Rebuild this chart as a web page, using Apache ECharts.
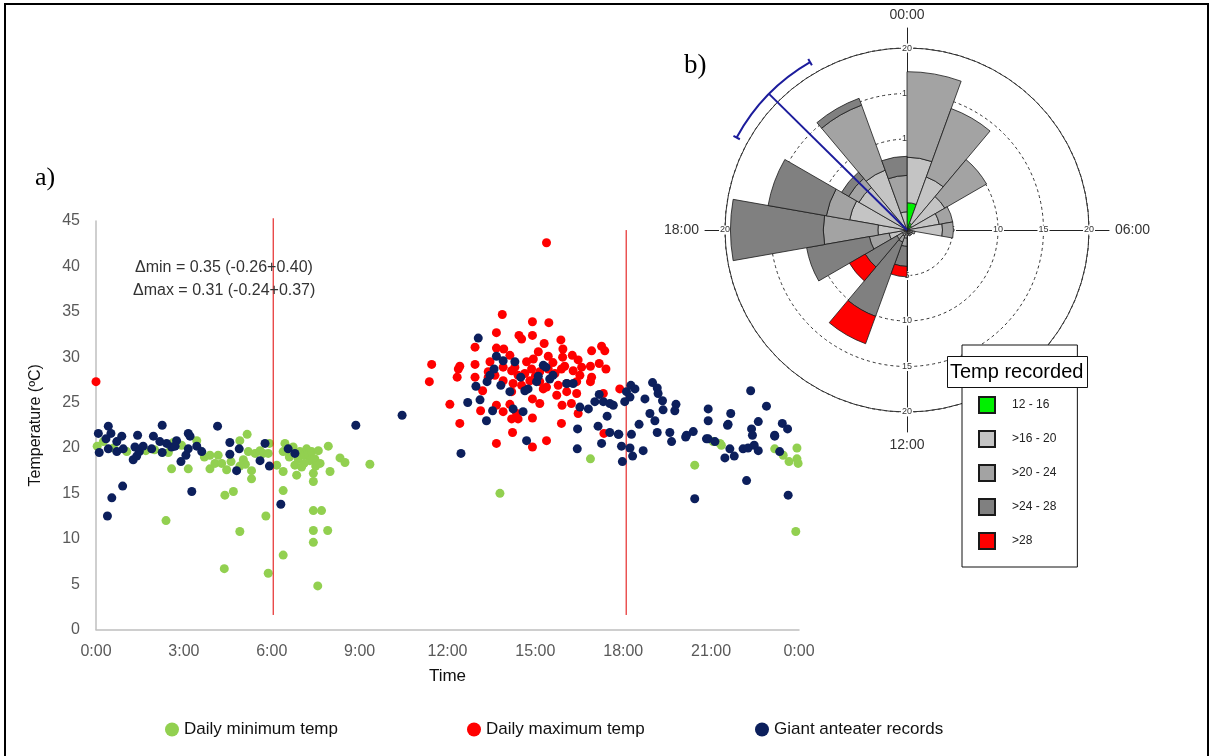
<!DOCTYPE html>
<html>
<head>
<meta charset="utf-8">
<script src="https://cdn.jsdelivr.net/npm/echarts@6/dist/echarts.min.js"></script>
<style>
html, body { margin: 0; padding: 0; background: #fff; }
#main { width: 1212px; height: 756px; }
</style>
</head>
<body>
<div id="main"></div>
<script>
// a) scatter: [hour of day, temperature]
var minTemp = [
  [0.04,20.2],[0.25,20.7],[0.6,20.0],[1.05,19.6],[1.7,19.7],[2.0,19.8],[2.47,19.5],[2.58,17.7],[2.64,20.6],[2.92,20.3],
  [3.15,17.7],[3.44,20.8],[2.39,12.0],[3.7,19.0],[3.89,19.2],[3.89,17.7],[4.17,19.2],[4.06,18.3],[4.29,18.3],[4.46,17.6],
  [4.61,18.5],[4.91,20.8],[5.16,21.5],[5.20,19.6],[5.03,18.7],[5.1,18.2],[5.31,17.5],[5.31,16.6],[5.43,19.4],[4.91,18.0],
  [5.6,19.7],[4.40,14.8],[4.69,15.2],[4.91,10.8],[4.38,6.7],[5.80,12.5],[5.88,6.2],[5.71,19.4],[5.88,19.4],[5.92,20.5],
  [6.17,18.1],[6.39,19.6],[6.45,20.5],[6.39,17.4],[6.39,15.3],[6.39,8.2],[6.6,19.0],[6.73,20.1],[6.96,19.6],[6.79,18.1],
  [6.85,17.0],[6.9,18.8],[7.02,17.9],[7.1,18.3],[7.13,19.2],[7.19,19.9],[7.25,19.3],[7.30,18.6],[7.36,19.6],[7.47,18.8],
  [7.5,18.0],[7.42,17.2],[7.42,16.3],[7.59,19.7],[7.65,18.3],[7.93,20.2],[7.99,17.4],[8.33,18.9],[8.50,18.4],[9.35,18.2],
  [7.42,13.1],[7.70,13.1],[7.42,10.9],[7.91,10.9],[7.42,9.6],[7.57,4.8],[13.79,15.0],[16.88,18.8],[20.44,18.1],[21.07,20.7],
  [21.30,20.5],[21.35,20.3],[23.17,19.9],[23.46,19.2],[23.66,18.5],[23.93,20.0],[23.93,18.8],[23.97,18.3],[23.89,10.8]
];
var maxTemp = [
  [0.0,27.3],[15.38,42.6],[13.87,34.7],[14.90,33.9],[15.46,33.8],[13.67,32.7],[14.44,32.4],[14.90,32.4],[15.87,31.9],[12.94,31.1],
  [13.67,31.0],[13.92,30.9],[14.53,32.0],[15.30,31.5],[15.94,30.9],[16.92,30.7],[17.26,31.2],[17.37,30.7],[11.46,29.2],[12.42,29.0],
  [12.94,29.2],[13.45,29.5],[14.13,30.2],[14.93,29.8],[15.44,30.1],[15.93,30.0],[16.26,30.2],[16.46,29.7],[17.18,29.3],[17.41,28.7],
  [16.88,29.0],[16.58,28.9],[12.37,28.7],[12.33,27.8],[11.38,27.3],[12.94,27.8],[13.39,28.4],[13.90,28.9],[14.19,28.5],[14.41,28.0],
  [14.64,28.2],[14.87,28.7],[15.15,28.4],[15.44,28.7],[15.67,28.2],[15.89,28.7],[16.29,28.5],[16.52,28.0],[16.92,27.8],[16.88,27.3],
  [16.41,27.3],[16.07,27.1],[15.78,26.9],[15.38,26.7],[15.15,27.3],[14.81,27.4],[14.53,26.9],[14.24,27.1],[13.90,27.4],[13.62,28.0],
  [13.39,27.8],[13.20,26.3],[14.19,26.2],[15.27,26.5],[15.73,25.8],[16.07,26.2],[16.41,26.0],[17.32,26.0],[17.88,26.5],[12.08,24.8],
  [13.13,24.1],[13.67,24.7],[13.90,24.0],[14.13,24.8],[14.36,23.8],[14.90,25.4],[15.15,24.9],[14.19,23.2],[14.41,23.2],[14.90,23.3],
  [15.91,24.7],[16.23,24.9],[16.46,23.8],[12.42,22.7],[15.89,22.7],[14.22,21.7],[13.67,20.5],[15.38,20.8],[14.90,20.1],[17.34,21.6],
  [14.7,29.5],[15.1,30.6],[15.6,29.4],[14.3,28.9],[15.0,27.9],[16.0,29.0]
];
var anteaterRecords = [
  [0.08,21.6],[0.42,22.4],[0.51,21.6],[0.34,21.0],[0.11,19.5],[0.42,19.9],[0.71,19.6],[0.71,20.7],[0.88,21.3],[0.93,19.9],
  [1.27,18.7],[1.39,19.1],[1.42,21.4],[1.33,20.1],[1.48,19.6],[1.61,20.2],[1.90,19.9],[1.96,21.3],[2.26,22.5],[2.26,19.5],
  [2.18,20.7],[2.41,20.5],[2.58,20.1],[2.75,20.8],[2.70,20.2],[2.90,18.5],[3.15,21.6],[3.21,21.3],[3.15,19.9],[3.07,19.2],
  [3.44,20.2],[3.61,19.6],[3.27,15.2],[4.15,22.4],[4.57,20.6],[4.57,19.3],[4.89,19.9],[4.80,17.5],[5.60,18.6],[5.77,20.5],
  [5.92,18.0],[6.31,13.8],[6.56,19.9],[6.79,19.4],[8.87,22.5],[0.39,12.5],[0.54,14.5],[0.91,15.8],[10.45,23.6],
  [13.05,32.1],[13.67,30.1],[14.30,29.5],[13.59,28.7],[13.45,28.0],[13.35,27.3],[13.82,26.9],[12.97,26.8],[15.27,29.1],[15.36,28.9],
  [15.49,27.6],[15.04,27.3],[14.75,26.5],[14.64,26.3],[14.13,26.2],[16.07,27.1],[16.29,27.1],[13.11,25.3],[12.69,25.0],[13.54,24.1],
  [13.33,23.0],[14.24,24.3],[14.58,24.0],[14.70,20.8],[16.52,24.5],[16.81,24.3],[17.03,25.1],[17.18,25.9],[17.32,25.1],[17.54,24.9],
  [17.66,24.7],[17.45,23.5],[17.14,22.4],[16.44,22.1],[17.54,21.7],[17.83,21.5],[17.26,20.5],[18.05,25.1],[18.11,26.2],[18.26,26.9],
  [18.40,26.5],[18.23,25.6],[18.74,25.4],[19.00,27.2],[19.16,26.6],[19.19,26.0],[19.34,25.2],[19.36,24.2],[19.80,24.8],[19.76,24.1],
  [18.91,23.8],[19.08,23.0],[18.54,22.6],[18.28,21.5],[19.16,21.7],[19.59,21.7],[19.65,20.7],[20.16,21.4],[20.39,21.8],[20.90,24.3],
  [20.90,23.0],[21.67,23.8],[22.35,26.3],[22.89,24.6],[22.61,22.9],[21.58,22.6],[22.38,22.1],[22.41,21.4],[23.43,22.7],[23.61,22.1],
  [23.17,21.4],[20.84,21.0],[12.46,19.4],[16.43,19.9],[17.85,21.5],[17.94,20.2],[17.97,18.5],[18.23,20.0],[18.32,19.1],[18.68,19.7],
  [20.13,21.2],[20.44,14.4],[20.90,21.0],[21.13,20.7],[21.47,18.9],[21.64,19.9],[21.79,19.1],[22.09,19.9],[22.26,20.0],[22.47,20.3],
  [22.61,19.7],[22.21,16.4],[23.34,19.6],[23.63,14.8],[21.56,22.5],[23.17,21.3],[13.9,29.6],[14.5,27.8],[15.6,28.0],[15.1,27.9]
];
var xTickLabels = ['0:00', '3:00', '6:00', '9:00', '12:00', '15:00', '18:00', '21:00', '0:00'];
// sunrise / sunset markers: hour, bottom and top of each red line
var sunHours = [6.05, 18.1];
var sunLineBottom = [1.6, 1.6];
var sunLineTop = [45.3, 44.0];

// b) rose diagram: 18 bins of 20 degrees, one stacked value per temperature class
var roseBins = ['0', '20', '40', '60', '80', '100', '120', '140', '160', '180', '200', '220', '240', '260', '280', '300', '320', '340'];
var roseClasses = ['12 - 16', '>16 - 20', '>20 - 24', '>24 - 28', '>28'];
var roseGreen = [3.0, 0.8, 0.6, null, null, null, null, null, null, null, null, null, null, null, null, null, null, null];
var roseLight = [5.0, 5.4, 4.2, 3.6, 3.9, 0.6, 0.5, 0.5, 0.4, 0.9, 0.7, 0.6, 2.0, 3.2, 6.4, 6.1, 7.0, 2.0];
var roseMid   = [9.4, 8.0, 5.3, 1.5, 1.2, 0.3, 0.2, 0.2, 0.2, 0.9, 0.7, 0.7, 2.2, 6.0, 2.6, 1.3, 7.6, 4.0];
var roseDark  = [null, null, null, null, null, null, null, null, null, 2.2, 8.7, 4.0, 7.0, 10.2, 6.5, 0.9, 0.8, 2.1];
var roseRed   = [null, null, null, null, null, null, null, null, null, 1.15, 3.2, 2.0, null, null, null, null, null, null];
var roseColors = ['#00f000', '#c4c4c4', '#a3a3a3', '#808080', '#ff0000'];
var angleLabels = ['00:00', '06:00', '12:00', '18:00'];
// mean vector [length, angle] and its confidence interval (angles)
var meanVector = [21.3, 314.6];
var ciAngles = [298.5, 330.0];

var chart = echarts.init(document.getElementById('main'));

var roseCenter = [907, 230];
var armAngles = [90, 0, 270, 180];

var polar = [
  { center: roseCenter, radius: 182 },
  { center: roseCenter, radius: 182 }
];
var angleAxis = [
  { polarIndex: 0, type: 'category', data: roseBins, startAngle: 90, clockwise: true,
    axisLine: { show: false }, axisTick: { show: false }, axisLabel: { show: false }, splitLine: { show: false } },
  { polarIndex: 1, type: 'value', min: 0, max: 360, startAngle: 90, clockwise: true,
    axisLine: { lineStyle: { color: '#333', width: 1 } }, axisTick: { show: false },
    axisLabel: { show: false }, splitLine: { show: false } }
];
var radiusAxis = [
  { polarIndex: 0, min: 0, max: 20, show: false },
  { polarIndex: 1, min: 0, max: 20, interval: 5,
    axisLine: { show: false }, axisTick: { show: false }, axisLabel: { show: false },
    splitLine: { show: true, lineStyle: { color: '#333', type: [3, 3], width: 1 } } }
];
armAngles.forEach(function (a, i) {
  polar.push({ center: roseCenter, radius: 202 });
  angleAxis.push({
    polarIndex: i + 2, type: 'value', min: 0, max: 360, interval: 90, startAngle: a, clockwise: true,
    axisLine: { show: false }, axisTick: { show: false }, splitLine: { show: false },
    axisLabel: {
      show: i === 0, margin: 6, fontSize: 14, color: '#333', fontFamily: 'Liberation Sans',
      formatter: function (v) { return angleLabels[v / 90] || ''; }
    }
  });
  radiusAxis.push({
    polarIndex: i + 2, min: 0, max: 22.2, interval: 5,
    axisLine: { lineStyle: { color: '#222', width: 1 } }, axisTick: { show: false }, splitLine: { show: false },
    axisLabel: {
      margin: 0, align: 'center', verticalAlign: 'middle', fontSize: 9, color: '#333',
      backgroundColor: '#fff', padding: [0, 1], fontFamily: 'Liberation Sans',
      showMinLabel: false, showMaxLabel: false,
      formatter: function (v) { return v > 0 && v % 5 === 0 ? String(v) : ''; }
    }
  });
});

var roseData = [roseGreen, roseLight, roseMid, roseDark, roseRed];
var roseSeries = roseClasses.map(function (name, i) {
  return {
    name: name, type: 'bar', coordinateSystem: 'polar', polarIndex: 0, stack: 'rose',
    barCategoryGap: '0%', data: roseData[i], silent: true,
    itemStyle: { color: roseColors[i], borderColor: '#1a1a1a', borderWidth: 0.8 }
  };
});

var meanSeries = {
  type: 'custom', coordinateSystem: 'polar', polarIndex: 1, z: 5, silent: true,
  data: [meanVector],
  renderItem: function (params, api) {
    var len = api.value(0), ang = api.value(1);
    var c = api.coord([0, ang]);
    var tip = api.coord([len, ang]);
    var p0 = api.coord([len, ciAngles[0]]);
    var p1 = api.coord([len, ciAngles[1]]);
    var r = Math.hypot(tip[0] - c[0], tip[1] - c[1]);
    var s = Math.atan2(p0[1] - c[1], p0[0] - c[0]);
    var e = Math.atan2(p1[1] - c[1], p1[0] - c[0]);
    if (e < s) e += Math.PI * 2;
    var blue = { stroke: '#1c1c9c', lineWidth: 2, fill: null };
    var t0a = api.coord([len - 0.4, ciAngles[0]]), t0b = api.coord([len + 0.4, ciAngles[0]]);
    var t1a = api.coord([len - 0.4, ciAngles[1]]), t1b = api.coord([len + 0.4, ciAngles[1]]);
    return {
      type: 'group',
      children: [
        { type: 'line', shape: { x1: c[0], y1: c[1], x2: tip[0], y2: tip[1] }, style: blue },
        { type: 'arc', shape: { cx: c[0], cy: c[1], r: r, startAngle: s, endAngle: e, clockwise: true }, style: blue },
        { type: 'line', shape: { x1: t0a[0], y1: t0a[1], x2: t0b[0], y2: t0b[1] }, style: blue },
        { type: 'line', shape: { x1: t1a[0], y1: t1a[1], x2: t1b[0], y2: t1b[1] }, style: blue }
      ]
    };
  }
};

var sunSeries = sunHours.map(function (h, i) {
  return {
    type: 'line', xAxisIndex: 0, yAxisIndex: 0, clip: false, silent: true, showSymbol: false, symbol: 'none',
    lineStyle: { color: '#e00000', width: 1 },
    data: [[h, sunLineBottom[i]], [h, sunLineTop[i]]], z: 3
  };
});

var scatterNames = ['Daily minimum temp', 'Daily maximum temp', 'Giant anteater records'];
var scatterColors = ['#92d050', '#ff0000', '#0c1f5c'];
var scatterData = [minTemp, maxTemp, anteaterRecords];
var scatterSeries = scatterNames.map(function (name, i) {
  return {
    name: name, type: 'scatter', xAxisIndex: 0, yAxisIndex: 0, symbolSize: 9, silent: true,
    data: scatterData[i], itemStyle: { color: scatterColors[i], opacity: 1 }, z: 2 + i
  };
});

var legendLefts = [165, 467, 755];
var legends = scatterNames.map(function (name, i) {
  return {
    data: [name], left: legendLefts[i], top: 721, icon: 'circle', itemWidth: 14, itemHeight: 14,
    selectedMode: false, padding: 0,
    textStyle: { fontSize: 17, color: '#111', fontFamily: 'Liberation Sans' }
  };
});
legends.push({
  data: roseClasses, orient: 'vertical', left: 962, top: 345, itemGap: 16, itemWidth: 16, itemHeight: 16,
  icon: 'rect', selectedMode: false, padding: [51, 21, 17, 16],
  backgroundColor: '#fff', borderColor: '#111', borderWidth: 1,
  textStyle: { fontSize: 12, color: '#222', fontFamily: 'Liberation Sans', padding: [0, 0, 0, 12] }
});

var option = {
  backgroundColor: '#fff',
  animation: false,
  title: [{
    text: 'Temp recorded', left: 947, top: 356, padding: [6, 4, 6, 3],
    backgroundColor: '#fff', borderColor: '#111', borderWidth: 1,
    textStyle: { fontSize: 20, fontWeight: 'normal', color: '#000', fontFamily: 'Liberation Sans' }
  }],
  legend: legends,
  grid: { left: 96, right: 413, top: 221, bottom: 126.5 },
  xAxis: {
    type: 'value', min: 0, max: 24, interval: 3,
    name: 'Time', nameLocation: 'middle', nameGap: 38,
    nameTextStyle: { fontSize: 17, color: '#111', fontFamily: 'Liberation Sans' },
    axisLine: { lineStyle: { color: '#bfbfbf', width: 1.5 } }, axisTick: { show: false },
    splitLine: { show: false },
    axisLabel: { fontSize: 16, color: '#595959', margin: 14, fontFamily: 'Liberation Sans',
      formatter: function (v) { return xTickLabels[v / 3]; } }
  },
  yAxis: {
    type: 'value', min: 0, max: 45, interval: 5,
    name: 'Temperature (ºC)', nameLocation: 'middle', nameGap: 52, nameRotate: 90,
    nameTextStyle: { fontSize: 16, color: '#111', fontFamily: 'Liberation Sans' },
    axisLine: { show: true, lineStyle: { color: '#bfbfbf', width: 1.5 } }, axisTick: { show: false },
    splitLine: { show: false },
    axisLabel: { fontSize: 16, color: '#595959', margin: 16, fontFamily: 'Liberation Sans' }
  },
  polar: polar,
  angleAxis: angleAxis,
  radiusAxis: radiusAxis,
  graphic: [
    { type: 'rect', z: 100, silent: true, shape: { x: 5, y: 4, width: 1203, height: 800 },
      style: { fill: null, stroke: '#000', lineWidth: 2 } },
    { type: 'text', z: 100, silent: true, style: { text: 'a)', x: 35, y: 178, verticalAlign: 'middle',
      font: '26px "Liberation Serif"', fill: '#000' } },
    { type: 'text', z: 100, silent: true, style: { text: 'b)', x: 684, y: 66, verticalAlign: 'middle',
      font: '27px "Liberation Serif"', fill: '#000' } },
    { type: 'text', z: 100, silent: true, style: { text: '\u0394min = 0.35 (-0.26+0.40)', x: 135, y: 268,
      verticalAlign: 'middle', font: '16px "Liberation Sans"', fill: '#333' } },
    { type: 'text', z: 100, silent: true, style: { text: '\u0394max = 0.31 (-0.24+0.37)', x: 133, y: 291,
      verticalAlign: 'middle', font: '16px "Liberation Sans"', fill: '#333' } }
  ],
  series: sunSeries.concat(scatterSeries, roseSeries, [meanSeries])
};

chart.setOption(option);
</script>
</body>
</html>
